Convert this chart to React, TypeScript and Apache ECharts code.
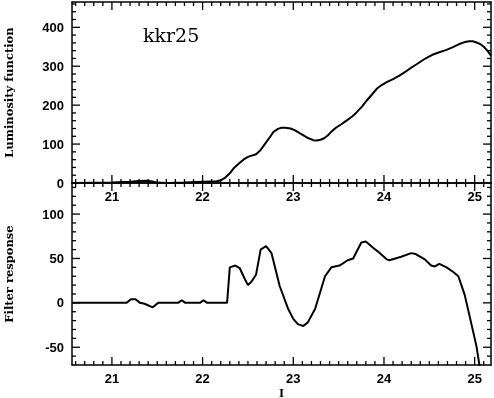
import React, { useEffect, useRef } from "react";
import * as echarts from "echarts";

// x range (I magnitude)
const X_MIN = 20.56;
const X_MAX = 25.18;

// Top panel: luminosity function
const lumX = [20.56, 21.0, 21.2, 21.3, 21.38, 21.45, 21.5, 21.6, 21.8, 22.0, 22.1, 22.15, 22.2, 22.25, 22.3, 22.34, 22.4, 22.45, 22.5, 22.55, 22.59, 22.64, 22.69, 22.74, 22.78, 22.83, 22.87, 22.91, 22.97, 23.02, 23.07, 23.15, 23.22, 23.26, 23.3, 23.34, 23.38, 23.42, 23.47, 23.53, 23.59, 23.65, 23.7, 23.76, 23.81, 23.87, 23.92, 23.97, 24.03, 24.1, 24.17, 24.23, 24.28, 24.36, 24.43, 24.49, 24.54, 24.61, 24.69, 24.76, 24.83, 24.89, 24.94, 24.98, 25.02, 25.06, 25.1, 25.14, 25.18];
const lumY = [0, 1, 3, 5, 6, 4, 1, 0, 1, 3, 4, 4, 7, 14, 25, 37, 50, 60, 67, 71, 74, 85, 101, 117, 131, 139, 142, 142, 140, 135, 128, 117, 110, 109, 111, 115, 122, 132, 142, 151, 161, 171, 182, 197, 212, 228, 242, 251, 259, 267, 276, 285, 293, 305, 316, 324, 330, 336, 342, 349, 357, 362, 364, 364, 361, 357, 350, 340, 327];

// Bottom panel: filter response
const filtX = [20.56, 21.16, 21.21, 21.26, 21.31, 21.36, 21.45, 21.51, 21.73, 21.77, 21.81, 21.97, 22.01, 22.05, 22.27, 22.3, 22.36, 22.41, 22.46, 22.5, 22.54, 22.59, 22.64, 22.7, 22.76, 22.85, 22.94, 23.0, 23.05, 23.11, 23.16, 23.24, 23.35, 23.42, 23.51, 23.6, 23.66, 23.75, 23.8, 23.88, 23.93, 24.03, 24.06, 24.19, 24.3, 24.35, 24.45, 24.52, 24.56, 24.61, 24.69, 24.76, 24.82, 24.89, 24.96, 25.02, 25.06];
const filtY = [0, 0, 4, 4, 0, -1, -5, 0, 0, 3, 0, 0, 3, 0, 0, 40, 42, 39, 28, 20, 24, 32, 60, 64, 56, 19, -6, -18, -24, -26, -22, -7, 30, 40, 42, 48, 50, 68, 69, 62, 58, 49, 48, 52, 56, 55, 49, 42, 41, 44, 40, 35, 30, 9, -22, -49, -75];

const LUM_MIN = 0;
const LUM_MAX = 465;
const FILT_MIN = -70;
const FILT_MAX = 135;

// tick values
const X_MAJOR = [21, 22, 23, 24, 25];
const X_MINOR_STEP = 0.1;
const LUM_MAJOR = [100, 200, 300, 400];
const LUM_MINOR_STEP = 20;
const FILT_MAJOR = [-50, 0, 50, 100];
const FILT_MINOR_STEP = 10;

function minorTicks(min: number, max: number, step: number, majors: number[]) {
  const out: number[] = [];
  const start = Math.ceil(min / step - 1e-9);
  const end = Math.floor(max / step + 1e-9);
  for (let k = start; k <= end; k++) {
    const v = Math.round(k * step * 1000) / 1000;
    if (v <= min || v >= max) continue;
    if (majors.some((m) => Math.abs(m - v) < 1e-6)) continue;
    out.push(v);
  }
  return out;
}

const labelFont = {
  color: "#000",
  fontFamily: "Liberation Sans",
  fontWeight: "bold" as const,
  fontSize: 13,
};

function xAxis(position: "top" | "bottom", labels: boolean, name?: string) {
  return {
    type: "value",
    gridIndex: 0,
    position,
    min: X_MIN,
    max: X_MAX,
    minInterval: 1,
    maxInterval: 1,
    name: name || "",
    nameLocation: "middle",
    nameGap: 17,
    nameTextStyle: { color: "#000", fontFamily: "Liberation Serif", fontWeight: "bold", fontSize: 13 },
    axisLine: { show: true, onZero: false, lineStyle: { color: "#000", width: 1.5 } },
    axisTick: { show: false },
    minorTick: { show: false },
    splitLine: { show: false },
    axisLabel: labels
      ? { show: true, margin: 7, showMinLabel: false, showMaxLabel: false, ...labelFont }
      : { show: false },
  };
}

function yAxis(position: "left" | "right", labels: boolean, min: number, max: number, step: number, name?: string) {
  return {
    type: "value",
    gridIndex: 0,
    position,
    min,
    max,
    minInterval: step,
    maxInterval: step,
    name: name || "",
    nameLocation: "middle",
    nameRotate: 90,
    nameGap: 57,
    nameTextStyle: { color: "#000", fontFamily: "DejaVu Serif", fontWeight: "bold", fontSize: 11.5 },
    axisLine: { show: true, onZero: false, lineStyle: { color: "#000", width: 1.5 } },
    axisTick: { show: false },
    minorTick: { show: false },
    splitLine: { show: false },
    axisLabel: labels
      ? { show: true, margin: 8, showMinLabel: min % step === 0, showMaxLabel: false, ...labelFont }
      : { show: false },
  };
}

// tick marks drawn as thin rect symbols through the axes' own scale
function tickScatter(points: number[][], size: number[], offset: number[]) {
  return {
    type: "scatter",
    xAxisIndex: 0,
    yAxisIndex: 0,
    data: points,
    symbol: "rect",
    symbolSize: size,
    symbolOffset: offset,
    itemStyle: { color: "#000", opacity: 1 },
    silent: true,
    clip: false,
    z: 5,
  };
}

function allTicks(yMin: number, yMax: number, yMajor: number[], yMinorStep: number) {
  const xMinor = minorTicks(X_MIN, X_MAX, X_MINOR_STEP, X_MAJOR);
  const yMinor = minorTicks(yMin, yMax, yMinorStep, yMajor);
  const W = 1.3;
  return [
    tickScatter(X_MAJOR.map((v) => [v, yMin]), [W, 8], [0, -4]),
    tickScatter(xMinor.map((v) => [v, yMin]), [W, 4], [0, -2]),
    tickScatter(X_MAJOR.map((v) => [v, yMax]), [W, 8], [0, 4]),
    tickScatter(xMinor.map((v) => [v, yMax]), [W, 4], [0, 2]),
    tickScatter(yMajor.map((v) => [X_MIN, v]), [8, W], [4, 0]),
    tickScatter(yMinor.map((v) => [X_MIN, v]), [4, W], [2, 0]),
    tickScatter(yMajor.map((v) => [X_MAX, v]), [8, W], [-4, 0]),
    tickScatter(yMinor.map((v) => [X_MAX, v]), [4, W], [-2, 0]),
  ];
}

function Panel(props: { which: "top" | "bottom" }) {
  const ref = useRef<HTMLDivElement>(null);
  useEffect(() => {
    if (!ref.current) return;
    const chart = echarts.init(ref.current, undefined, { renderer: "svg" });
    const top = props.which === "top";
    const xs = top ? lumX : filtX;
    const ys = top ? lumY : filtY;
    const yMin = top ? LUM_MIN : FILT_MIN;
    const yMax = top ? LUM_MAX : FILT_MAX;
    const step = top ? 100 : 50;
    const opt: any = {
      animation: false,
      grid: top
        ? { left: 72, right: 3, top: 2, height: 181, outerBoundsMode: "none" }
        : { left: 72, right: 3, top: 183, height: 182, outerBoundsMode: "none" },
      xAxis: [xAxis("bottom", true, top ? "" : "I"), xAxis("top", false)],
      yAxis: [
        yAxis("left", true, yMin, yMax, step, top ? "Luminosity function" : "Filter response"),
        yAxis("right", false, yMin, yMax, step),
      ],
      series: [
        {
          type: "line",
          xAxisIndex: 0,
          yAxisIndex: 0,
          data: xs.map((x, i) => [x, ys[i]]),
          showSymbol: false,
          lineStyle: { color: "#000", width: 2 },
        },
        ...(top
          ? allTicks(LUM_MIN, LUM_MAX, LUM_MAJOR, LUM_MINOR_STEP)
          : allTicks(FILT_MIN, FILT_MAX, FILT_MAJOR, FILT_MINOR_STEP)),
      ],
    };
    if (top) {
      opt.title = {
        text: "kkr25",
        left: 143,
        top: 25,
        padding: 0,
        textStyle: { color: "#000", fontFamily: "DejaVu Serif", fontWeight: "normal", fontSize: 19 },
      };
    }
    chart.setOption(opt);
    return () => chart.dispose();
  }, []);
  return <div ref={ref} style={{ position: "absolute", left: 0, top: 0, width: 494, height: 398 }} />;
}

export default function App() {
  return (
    <div style={{ position: "fixed", left: 0, top: 0, width: 494, height: 398 }}>
      <Panel which="top" />
      <Panel which="bottom" />
    </div>
  );
}
